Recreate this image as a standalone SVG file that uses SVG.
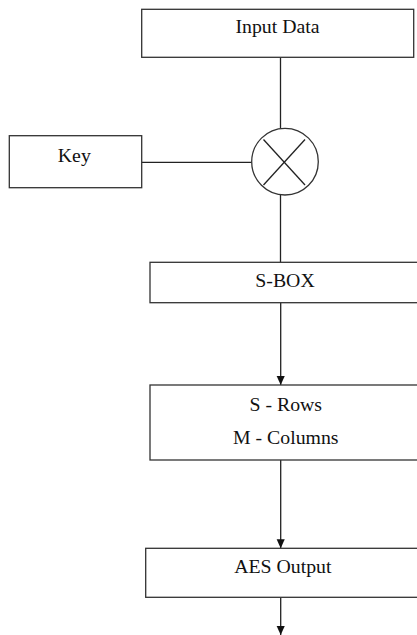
<svg xmlns="http://www.w3.org/2000/svg" width="417" height="635" viewBox="0 0 417 635">
<style>
.box{fill:#fff;stroke:#333;stroke-width:1.3}
.ln{fill:none;stroke:#222;stroke-width:1.3}
.t{font-family:"Liberation Serif","Times New Roman",serif;font-size:19.8px;fill:#111;text-anchor:middle}
</style>
<defs>
<marker id="arr" markerWidth="9" markerHeight="10" refX="10" refY="4.5" orient="auto" markerUnits="userSpaceOnUse" viewBox="0 0 10 9">
<path d="M0,0 L10,4.5 L0,9 Z" fill="#111"/>
</marker>
</defs>
<rect width="417" height="635" fill="#fff"/>
<g id="connectors">
<line class="ln" x1="280.5" y1="57.3" x2="280.5" y2="128.5"/>
<line class="ln" x1="141.7" y1="162.3" x2="251.7" y2="162.3"/>
<line class="ln" x1="280.5" y1="195" x2="280.5" y2="262.3"/>
<line class="ln" x1="280.7" y1="302.7" x2="280.7" y2="385" marker-end="url(#arr)"/>
<line class="ln" x1="280.7" y1="460" x2="280.7" y2="548.3" marker-end="url(#arr)"/>
<line class="ln" x1="280.7" y1="597.3" x2="280.7" y2="635" marker-end="url(#arr)"/>
</g>
<g id="input-data">
<rect class="box" x="141.7" y="9.3" width="272" height="48"/>
<text class="t" x="277.5" y="33.3">Input Data</text>
</g>
<g id="key">
<rect class="box" x="9.3" y="135.7" width="132.4" height="52"/>
<text class="t" x="74.3" y="161.7">Key</text>
</g>
<g id="xor">
<circle class="box" cx="285" cy="161.7" r="33.3"/>
<line class="ln" x1="263.5" y1="139.5" x2="305" y2="185"/>
<line class="ln" x1="305" y1="139.5" x2="263.5" y2="185"/>
</g>
<g id="sbox">
<rect class="box" x="150" y="262.3" width="280" height="40.4"/>
<text class="t" x="285" y="286.7">S-BOX</text>
</g>
<g id="rows-columns">
<rect class="box" x="150" y="385" width="280" height="75"/>
<text class="t" x="285.8" y="410.7">S - Rows</text>
<text class="t" x="285.8" y="444">M - Columns</text>
</g>
<g id="aes-output">
<rect class="box" x="145.7" y="548.3" width="285" height="49"/>
<text class="t" x="282.8" y="573.3">AES Output</text>
</g>
</svg>
